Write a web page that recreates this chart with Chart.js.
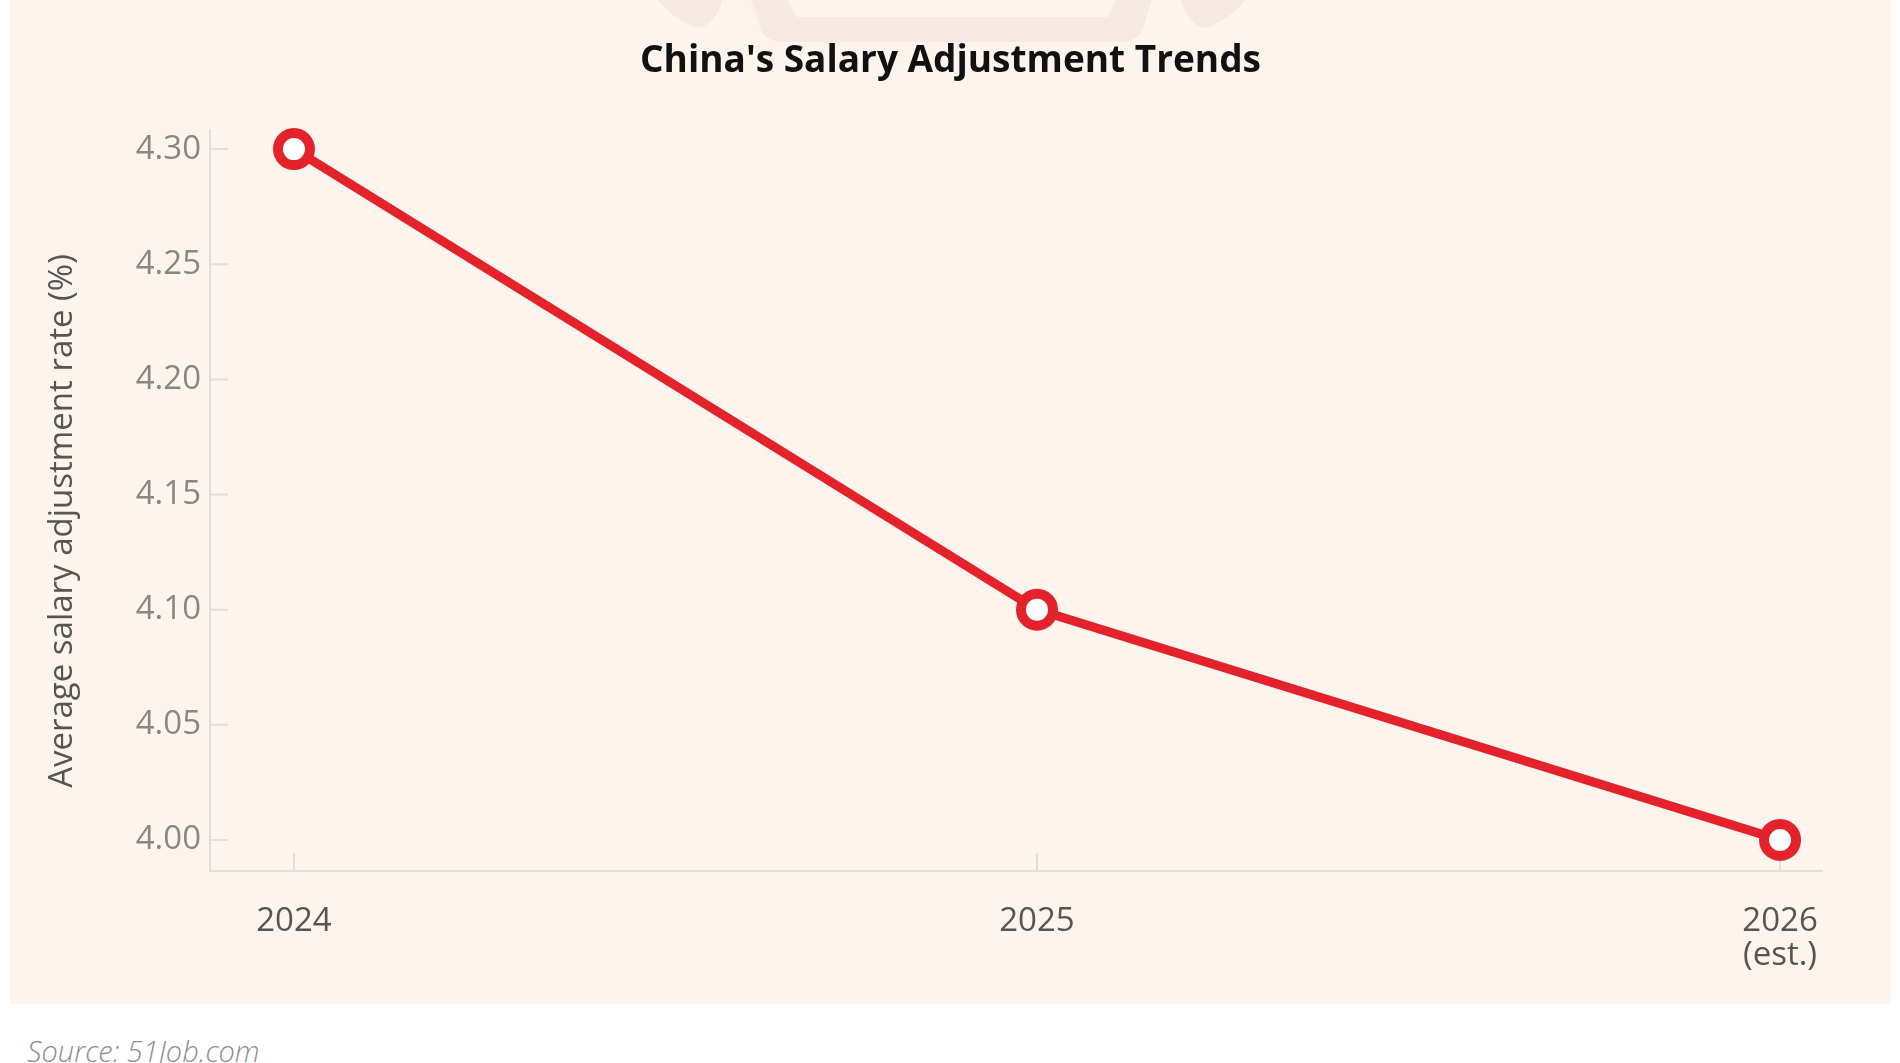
<!DOCTYPE html>
<html>
<head>
<meta charset="utf-8">
<script src="https://cdn.jsdelivr.net/npm/chart.js@4"></script>
<style>
  body { margin: 0; background: #fff; width: 1900px; height: 1063px; position: relative; overflow: hidden; }
  #panel { position: absolute; left: 10px; top: 0; width: 1881px; height: 1004px; background: #fdf4ee; }
  #source { position: absolute; left: 27px; top: 1036px; font: italic 300 29px 'Open Sans', sans-serif; line-height: 29px; color: #8e8e8e; }
</style>
</head>
<body>
<div id="panel"><canvas id="grafico"></canvas></div>
<div id="source">Source: 51Job.com</div>
<script>
// datos
const years = ['2024', '2025', ['2026', '(est.)']];
const rates = [4.30, 4.10, 4.00];
const yTicks = [4.00, 4.05, 4.10, 4.15, 4.20, 4.25, 4.30];
const yTitle = 'Average salary adjustment rate (%)';

const rojo = '#e4222b';
const ejeColor = '#e2dedb';

// marca de agua tenue arriba
const marcaAgua = {
  id: 'marcaAgua',
  beforeDraw(chart) {
    const ctx = chart.ctx;
    ctx.save();
    ctx.fillStyle = '#f5e9e1';
    ctx.beginPath();
    ctx.moveTo(648, 0); ctx.lineTo(712, 0);
    ctx.quadraticCurveTo(706, 24, 688, 28);
    ctx.quadraticCurveTo(664, 20, 648, 0);
    ctx.fill();
    ctx.beginPath();
    ctx.moveTo(1171, 0); ctx.lineTo(1235, 0);
    ctx.quadraticCurveTo(1219, 20, 1195, 28);
    ctx.quadraticCurveTo(1177, 24, 1171, 0);
    ctx.fill();
    ctx.beginPath();
    ctx.moveTo(741, 0);
    ctx.lineTo(750, 28);
    ctx.quadraticCurveTo(755, 42, 775, 42);
    ctx.lineTo(1108, 42);
    ctx.quadraticCurveTo(1128, 42, 1133, 28);
    ctx.lineTo(1142, 0);
    ctx.closePath();
    ctx.fill();
    ctx.fillStyle = '#fdf4ee';
    ctx.beginPath();
    ctx.moveTo(777, 0); ctx.lineTo(787, 17); ctx.lineTo(1098, 17); ctx.lineTo(1106, 0);
    ctx.closePath();
    ctx.fill();
    ctx.restore();
  }
};

// marcas de eje hacia adentro
const marcasInternas = {
  id: 'marcasInternas',
  beforeDatasetsDraw(chart) {
    const { ctx, chartArea, scales } = chart;
    const largo = 18;
    ctx.save();
    ctx.strokeStyle = ejeColor;
    ctx.lineWidth = 2;
    ctx.beginPath();
    scales.y.ticks.forEach(t => {
      const py = scales.y.getPixelForValue(t.value);
      ctx.moveTo(chartArea.left, py);
      ctx.lineTo(chartArea.left + largo, py);
    });
    scales.x.ticks.forEach(t => {
      const px = scales.x.getPixelForValue(t.value);
      ctx.moveTo(px, chartArea.bottom);
      ctx.lineTo(px, chartArea.bottom - largo);
    });
    ctx.stroke();
    ctx.restore();
  }
};

// titulo del eje y, un poco mas abajo que el centro del eje
const tituloEje = {
  id: 'tituloEje',
  afterDraw(chart) {
    const ctx = chart.ctx;
    ctx.save();
    ctx.translate(53, 521);
    ctx.rotate(-Math.PI / 2);
    ctx.fillStyle = '#555555';
    ctx.font = "33px 'Open Sans', sans-serif";
    ctx.textAlign = 'center';
    ctx.textBaseline = 'middle';
    ctx.fillText(yTitle, 0, 0);
    ctx.restore();
  }
};

Chart.defaults.font.family = "'Open Sans', sans-serif";

new Chart(document.getElementById('grafico'), {
  type: 'line',
  data: {
    datasets: [{
      data: rates.map((v, i) => ({ x: i, y: v })),
      borderColor: rojo,
      borderWidth: 9,
      pointRadius: 16,
      pointBorderWidth: 10,
      pointBorderColor: rojo,
      pointBackgroundColor: '#ffffff',
      tension: 0,
      clip: false
    }]
  },
  options: {
    responsive: true,
    maintainAspectRatio: false,
    animation: false,
    layout: { padding: 0 },
    plugins: {
      legend: { display: false },
      tooltip: { enabled: false },
      title: {
        display: true,
        text: "China's Salary Adjustment Trends",
        color: '#111111',
        font: { size: 37, weight: 'bold' },
        padding: { top: 39, bottom: 46.6 }
      }
    },
    scales: {
      x: {
        type: 'linear',
        min: -0.113,
        max: 2.0565,
        afterBuildTicks: s => { s.ticks = years.map((_, i) => ({ value: i })); },
        afterFit: s => { s.height = 133; },
        grid: { display: false, drawTicks: false },
        border: { color: ejeColor, width: 2 },
        ticks: {
          callback: v => years[v],
          color: '#555555',
          font: { size: 33, lineHeight: 1.04 },
          padding: 33,
          autoSkip: false,
          maxRotation: 0
        }
      },
      y: {
        min: 3.9865,
        max: 4.3083,
        afterBuildTicks: s => { s.ticks = yTicks.map(v => ({ value: v })); },
        afterFit: s => { s.width = 200; },
        grid: { display: false, drawTicks: false },
        border: { color: ejeColor, width: 2 },
        ticks: {
          callback: v => v.toFixed(2),
          color: '#8a8684',
          font: { size: 33 },
          padding: 9
        }
      },
      // eje vacio a la derecha, solo reserva margen
      margen: {
        position: 'right',
        afterFit: s => { s.width = 69; },
        grid: { display: false },
        border: { display: false },
        ticks: { display: false }
      }
    }
  },
  plugins: [marcaAgua, marcasInternas, tituloEje]
});
</script>
</body>
</html>
